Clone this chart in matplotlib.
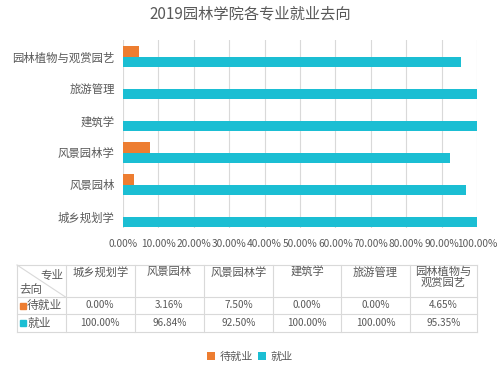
import numpy as np
import matplotlib
matplotlib.use("Agg")
import matplotlib.pyplot as plt
from matplotlib.patches import Rectangle

plt.rcParams['font.family'] = ['Noto Sans CJK SC', 'DejaVu Sans']

# data
majors = ["城乡规划学", "风景园林", "风景园林学", "建筑学", "旅游管理", "园林植物与观赏园艺"]
majors_table = ["城乡规划学", "风景园林", "风景园林学", "建筑学", "旅游管理", "园林植物与\n观赏园艺"]
waiting = [0.00, 3.16, 7.50, 0.00, 0.00, 4.65]
employed = [100.00, 96.84, 92.50, 100.00, 100.00, 95.35]
series_names = ["待就业", "就业"]
xticks = np.arange(0, 101, 10)

orange = "#ED7D31"
cyan = "#1BBED3"
grey_txt = "#595959"
line_c = "#D9D9D9"

fig = plt.figure(figsize=(5, 3.7), dpi=100)
ax = fig.add_axes([0.246, 0.384, 0.708, 0.508])

y = np.arange(len(majors))
h = 0.33
b1 = ax.barh(y + h / 2, waiting, height=h, color=orange, label=series_names[0])
b2 = ax.barh(y - h / 2, employed, height=h, color=cyan, label=series_names[1])

ax.set_xlim(0, 100)
ax.set_ylim(-0.35, 5.53)
ax.set_xticks(xticks)
ax.set_xticklabels(["%.2f%%" % v for v in xticks], fontsize=7.3, color=grey_txt)
ax.set_yticks(y)
ax.set_yticklabels(majors, fontsize=8.2, color=grey_txt)
ax.tick_params(length=0, pad=6)
ax.tick_params(axis='x', pad=8)
ax.grid(axis='x', color=line_c, linewidth=0.8)
ax.set_axisbelow(True)
for s in ax.spines.values():
    s.set_visible(False)

fig.text(0.5, 1 - 14 / 370, "2019园林学院各专业就业去向", ha='center', va='center',
         fontsize=11, color=grey_txt)

# table drawn in pixel coordinates
tx = fig.add_axes([0, 0, 1, 1])
tx.set_xlim(0, 500)
tx.set_ylim(370, 0)
tx.axis('off')
cols = [17, 65.5, 135, 204, 273, 341, 410, 477]
rows = [265, 297, 314, 332]
for c in cols:
    tx.plot([c, c], [rows[0], rows[-1]], color=line_c, lw=0.8)
for r in rows:
    tx.plot([cols[0], cols[-1]], [r, r], color=line_c, lw=0.8)
tx.plot([cols[0], cols[1]], [rows[0], rows[1]], color=line_c, lw=0.8)
tx.text(cols[1] - 2, 275, "专业", ha='right', va='center', fontsize=8.3, color=grey_txt)
tx.text(cols[0] + 2, 290, "去向", ha='left', va='center', fontsize=8.3, color=grey_txt)

for i, name in enumerate(majors_table):
    cx = (cols[i + 1] + cols[i + 2]) / 2
    tx.text(cx, 267, name, ha='center', va='top', fontsize=8.1, color=grey_txt,
            linespacing=1.05)

for ri, (vals, col, nm) in enumerate([(waiting, orange, series_names[0]),
                                       (employed, cyan, series_names[1])]):
    cy = (rows[ri + 1] + rows[ri + 2]) / 2
    tx.add_patch(Rectangle((cols[0] + 3, cy - 3), 6, 6, color=col))
    tx.text(cols[0] + 10, cy, nm, ha='left', va='center', fontsize=8.5, color=grey_txt)
    for i, v in enumerate(vals):
        cx = (cols[i + 1] + cols[i + 2]) / 2
        tx.text(cx, cy, "%.2f%%" % v, ha='center', va='center', fontsize=7.2,
                color=grey_txt)

leg = fig.legend(handles=[b1, b2], labels=series_names, loc='center',
                 bbox_to_anchor=(0.5, 1 - 357 / 370), ncol=2, frameon=False,
                 fontsize=8, handlelength=0.7, handleheight=0.7,
                 handletextpad=0.4, columnspacing=0.5)
for t in leg.get_texts():
    t.set_color(grey_txt)

fig.savefig("out.png", dpi=100)
